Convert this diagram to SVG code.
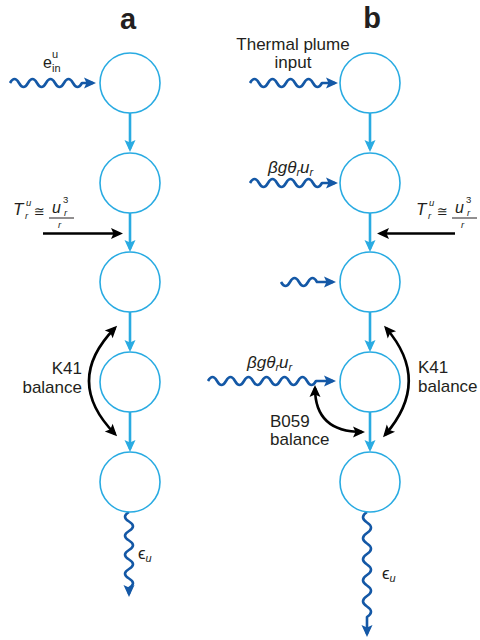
<svg xmlns="http://www.w3.org/2000/svg" width="480" height="640" viewBox="0 0 480 640">
<defs>
<style>
.node{fill:#fff;stroke:#29ABE2;stroke-width:1.6}
.flow{fill:none;stroke:#29ABE2;stroke-width:2.6;marker-end:url(#mBlue)}
.wave{fill:none;stroke:#1458A6;stroke-width:2.6;stroke-linejoin:round;marker-end:url(#mWave)}
.blk{fill:none;stroke:#000;stroke-width:2.6;marker-end:url(#mBlack)}
.arc{fill:none;stroke:#000;stroke-width:2.6;marker-start:url(#mBlack);marker-end:url(#mBlack)}
text{font-family:"Liberation Sans","DejaVu Sans",sans-serif;fill:#231F20}
.lbl{font-size:17px}
.hd{font-size:29px;font-weight:bold;text-anchor:middle}
.mi{font-style:italic;font-size:17px}
.sm{font-size:11px}
.smi{font-size:11px;font-style:italic}
.xs{font-size:9.5px}
.xsi{font-size:9.5px;font-style:italic}
</style>
<marker id="mBlue" markerUnits="userSpaceOnUse" markerWidth="14" markerHeight="12" refX="0" refY="0" orient="auto" style="overflow:visible"><path d="M3,0 L-9,-5.5 L-6.5,0 L-9,5.5 Z" fill="#29ABE2"/></marker>
<marker id="mWave" markerUnits="userSpaceOnUse" markerWidth="14" markerHeight="12" refX="0" refY="0" orient="auto" style="overflow:visible"><path d="M3,0 L-9,-5.5 L-6.5,0 L-9,5.5 Z" fill="#1458A6"/></marker>
<marker id="mBlack" markerUnits="userSpaceOnUse" markerWidth="14" markerHeight="12" refX="0" refY="0" orient="auto-start-reverse" style="overflow:visible"><path d="M3,0 L-9,-5.5 L-6.5,0 L-9,5.5 Z" fill="#000"/></marker>
</defs>
<rect width="480" height="640" fill="#fff"/>

<g id="headings">
<text class="hd" x="128" y="29">a</text>
<text class="hd" x="372" y="28">b</text>
</g>

<g id="connectors">
<!-- column a cascade -->
<path class="flow" d="M130,113 V149"/>
<path class="flow" d="M130,213 V249"/>
<path class="flow" d="M130,312 V349"/>
<path class="flow" d="M130,412 V449"/>
<!-- column b cascade -->
<path class="flow" d="M370,113 V149"/>
<path class="flow" d="M370,213 V249"/>
<path class="flow" d="M370,312 V349"/>
<path class="flow" d="M370,412 V449"/>
<!-- wavy inputs -->
<path class="wave" d="M10,83 q4.5,-8 9,0 t9,0 t9,0 t9,0 t9,0 t9,0 t9,0 t9,0 l11,0"/>
<path class="wave" d="M250,83 q4.5,-8 9,0 t9,0 t9,0 t9,0 t9,0 t9,0 t9,0 t9,0 l13,0"/>
<path class="wave" d="M250,183 q4.5,-8 9,0 t9,0 t9,0 t9,0 t9,0 t9,0 t9,0 t9,0 l13,0"/>
<path class="wave" d="M281,282 q4.5,8 9,0 t9,0 t9,0 t9,0 l16,0"/>
<path class="wave" d="M208,381 q4.5,-8 9,0 t9,0 t9,0 t9,0 t9,0 t9,0 t9,0 t9,0 t9,0 t9,0 t9,0 t9,0 l17,0"/>
<!-- dissipation outputs -->
<path class="wave" d="M129,512 q-8,4.75 0,9.5 t0,9.5 t0,9.5 t0,9.5 t0,9.5 t0,9.5 t0,9.5 t0,9.5 l0,6"/>
<path class="wave" d="M367,512 q-8,5.25 0,10.5 t0,10.5 t0,10.5 t0,10.5 t0,10.5 t0,10.5 t0,10.5 t0,10.5 t0,10.5 t0,10.5 l0,17"/>
<!-- transfer arrows -->
<path class="blk" d="M43,233.5 H120"/>
<path class="blk" d="M455,233.5 H380"/>
<!-- balance arcs -->
<path class="arc" d="M115,328 Q63,381 115,434"/>
<path class="arc" d="M386,328 Q432,381 385,435"/>
<path class="arc" d="M315,388 C315,418 332,432 362,432"/>
</g>

<g id="node-a1"><circle class="node" cx="130" cy="83" r="30"/></g>
<g id="node-a2"><circle class="node" cx="130" cy="183" r="30"/></g>
<g id="node-a3"><circle class="node" cx="130" cy="282" r="30"/></g>
<g id="node-a4"><circle class="node" cx="130" cy="382" r="30"/></g>
<g id="node-a5"><circle class="node" cx="130" cy="482" r="30"/></g>
<g id="node-b1"><circle class="node" cx="370" cy="83" r="30"/></g>
<g id="node-b2"><circle class="node" cx="370" cy="183" r="30"/></g>
<g id="node-b3"><circle class="node" cx="370" cy="282" r="30"/></g>
<g id="node-b4"><circle class="node" cx="370" cy="382" r="30"/></g>
<g id="node-b5"><circle class="node" cx="370" cy="482" r="30"/></g>

<g id="labels">
<!-- e_in^u -->
<text x="43" y="68" style="font-size:16px">e</text>
<text class="sm" x="52" y="58">u</text>
<text class="sm" x="52" y="72">in</text>
<!-- Thermal plume input -->
<text class="lbl" x="293" y="50" text-anchor="middle">Thermal plume</text>
<text class="lbl" x="293" y="68" text-anchor="middle">input</text>
<!-- T label a -->
<text class="mi" x="13" y="215">T</text>
<text class="xsi" x="26" y="206">u</text>
<text class="xsi" x="25" y="219">r</text>
<text x="34" y="216" style="font-size:13px">≅</text>
<text class="mi" x="52" y="213" style="font-size:16px">u</text>
<text class="xs" x="63" y="203">3</text>
<text class="xsi" x="64" y="216">r</text>
<line x1="49" y1="218" x2="74" y2="218" stroke="#231F20" stroke-width="1"/>
<text class="xsi" x="58" y="228">r</text>
<!-- T label b -->
<text class="mi" x="416" y="215">T</text>
<text class="xsi" x="429" y="206">u</text>
<text class="xsi" x="428" y="219">r</text>
<text x="437" y="216" style="font-size:13px">≅</text>
<text class="mi" x="455" y="213" style="font-size:16px">u</text>
<text class="xs" x="466" y="203">3</text>
<text class="xsi" x="467" y="216">r</text>
<line x1="452" y1="218" x2="477" y2="218" stroke="#231F20" stroke-width="1"/>
<text class="xsi" x="461" y="228">r</text>
<!-- beta g theta labels -->
<text class="mi" x="268" y="173">βgθ<tspan class="smi" dy="3">r</tspan><tspan dy="-3">u</tspan><tspan class="smi" dy="3">r</tspan></text>
<text class="mi" x="247" y="368">βgθ<tspan class="smi" dy="3">r</tspan><tspan dy="-3">u</tspan><tspan class="smi" dy="3">r</tspan></text>
<!-- K41 a -->
<text class="lbl" x="82" y="374" text-anchor="end">K41</text>
<text class="lbl" x="82" y="393" text-anchor="end">balance</text>
<!-- K41 b -->
<text class="lbl" x="418" y="373">K41</text>
<text class="lbl" x="418" y="392">balance</text>
<!-- B059 -->
<text class="lbl" x="270" y="427">B059</text>
<text class="lbl" x="270" y="445">balance</text>
<!-- epsilon -->
<text x="138" y="559" style="font-size:17px">ϵ<tspan class="smi" dy="3">u</tspan></text>
<text x="382" y="579" style="font-size:17px">ϵ<tspan class="smi" dy="3">u</tspan></text>
</g>
</svg>
